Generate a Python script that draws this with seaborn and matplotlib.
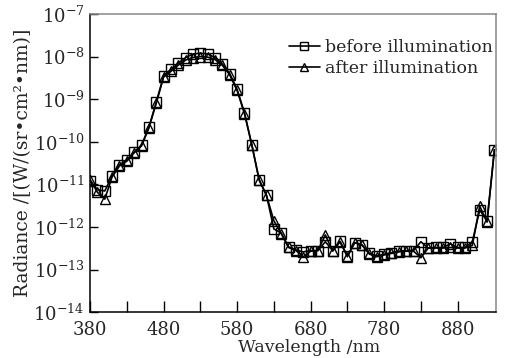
import numpy as np
import pandas as pd
import matplotlib
matplotlib.use("Agg")
import matplotlib.pyplot as plt
from matplotlib.ticker import FixedLocator, NullLocator
import seaborn as sns

wavelength = [380, 390, 400, 410, 420, 430, 440, 450, 460, 470,
              480, 490, 500, 510, 520, 530, 540, 550, 560, 570,
              580, 590, 600, 610, 620, 630, 640, 650, 660, 670,
              680, 690, 700, 710, 720, 730, 740, 750, 760, 770,
              780, 790, 800, 810, 820, 830, 840, 850, 860, 870,
              880, 890, 900, 910, 920, 930]

before = [1.2e-11, 7.5e-12, 7e-12, 1.6e-11, 2.9e-11, 3.7e-11, 5.7e-11, 8.3e-11, 2.2e-10, 8.5e-10,
          3.5e-9, 5.0e-9, 7.0e-9, 9.5e-9, 1.15e-8, 1.2e-8, 1.15e-8, 9.5e-9, 6.7e-9, 4.0e-9,
          1.7e-9, 4.8e-10, 8.5e-11, 1.25e-11, 5.5e-12, 9e-13, 7.2e-13, 3.4e-13, 2.9e-13, 2.6e-13,
          2.8e-13, 2.8e-13, 4.5e-13, 2.8e-13, 4.6e-13, 2.1e-13, 4.3e-13, 3.7e-13, 2.4e-13, 2.1e-13,
          2.3e-13, 2.5e-13, 2.7e-13, 2.8e-13, 2.8e-13, 4.5e-13, 3.2e-13, 3.3e-13, 3.3e-13, 4.0e-13,
          3.3e-13, 3.3e-13, 4.5e-13, 2.5e-12, 1.4e-12, 6.5e-11]

after = [1.3e-11, 6.5e-12, 4.5e-12, 1.5e-11, 2.7e-11, 3.5e-11, 5.5e-11, 8e-11, 2.1e-10, 8e-10,
         3.3e-9, 4.5e-9, 6.3e-9, 8.3e-9, 9.5e-9, 1.0e-8, 9.7e-9, 8.5e-9, 6.2e-9, 3.7e-9,
         1.6e-9, 4.6e-10, 8.5e-11, 1.3e-11, 5.5e-12, 1.4e-12, 7e-13, 3.3e-13, 2.8e-13, 2.0e-13,
         2.7e-13, 2.8e-13, 6.5e-13, 2.7e-13, 4.5e-13, 2.0e-13, 4.3e-13, 3.8e-13, 2.3e-13, 2.0e-13,
         2.2e-13, 2.4e-13, 2.6e-13, 2.7e-13, 2.7e-13, 1.9e-13, 3.2e-13, 3.2e-13, 3.2e-13, 3.3e-13,
         3.2e-13, 3.2e-13, 3.7e-13, 3.1e-12, 1.3e-12, 6.5e-11]

series_names = ["before illumination", "after illumination"]
x_major = [380, 480, 580, 680, 780, 880]
x_minor = [430, 530, 630, 730, 830]
y_decades = [1e-14, 1e-13, 1e-12, 1e-11, 1e-10, 1e-9, 1e-8, 1e-7]

df = pd.DataFrame({
    "Wavelength": wavelength * 2,
    "Radiance": before + after,
    "series": [series_names[0]] * len(wavelength) + [series_names[1]] * len(wavelength),
})

sns.set_style("ticks")
plt.rcParams["font.family"] = ["DejaVu Serif"]
plt.rcParams["mathtext.fontset"] = "dejavuserif"

fig = plt.figure(figsize=(5.06, 3.58), dpi=100)
ax = fig.add_axes([0.178, 0.128, 0.802, 0.833])

sns.lineplot(data=df, x="Wavelength", y="Radiance", hue="series", style="series",
             palette={series_names[0]: "black", series_names[1]: "black"},
             markers={series_names[0]: "s", series_names[1]: "^"},
             dashes=False, markersize=6.5, markerfacecolor="none",
             markeredgecolor="black", markeredgewidth=1.0, linewidth=1.2,
             ax=ax, legend=True)

ax.set_yscale("log")
ax.set_ylim(1e-14, 1e-7)
ax.set_xlim(380, 932)
ax.yaxis.set_major_locator(FixedLocator(y_decades))
ax.yaxis.set_minor_locator(NullLocator())
ax.xaxis.set_major_locator(FixedLocator(x_major))
ax.xaxis.set_minor_locator(FixedLocator(x_minor))
ax.tick_params(axis="both", which="both", direction="in", labelsize=13,
               top=False, right=False, width=1.0, color="black")
ax.tick_params(axis="x", which="both", length=8, pad=6)
ax.tick_params(axis="y", which="major", length=6, pad=4)

for s in ["left", "bottom"]:
    ax.spines[s].set_color("black")
    ax.spines[s].set_linewidth(1.1)
for s in ["top", "right"]:
    ax.spines[s].set_color("#888888")
    ax.spines[s].set_linewidth(1.1)

ax.set_xlabel("Wavelength /nm", fontsize=12.5, labelpad=0)
ax.xaxis.set_label_coords(0.54, -0.09)
ax.set_ylabel("Radiance /[(W/(sr•cm²•nm)]", fontsize=13.5, labelpad=1)

leg = ax.legend(loc="upper right", frameon=False, fontsize=12.5,
                handlelength=1.8, handletextpad=0.3, labelspacing=0.25,
                bbox_to_anchor=(1.01, 0.94), borderaxespad=0.0)
for h in leg.legend_handles:
    h.set_markerfacecolor("none")
    h.set_markeredgecolor("black")
    h.set_markersize(6)

fig.savefig("out.png", dpi=100)
